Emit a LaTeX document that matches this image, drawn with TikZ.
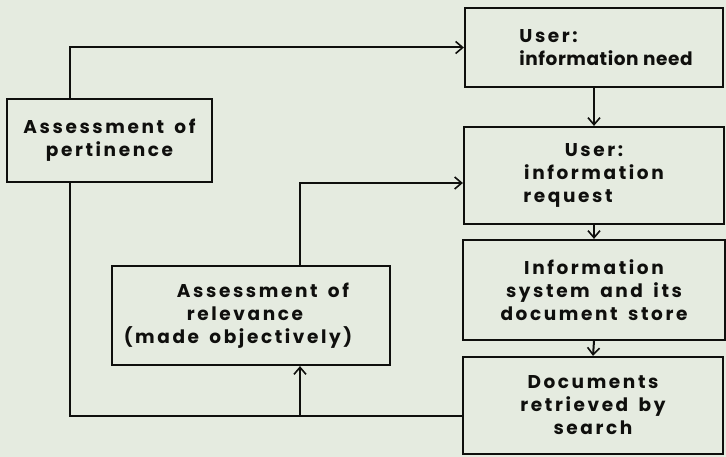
\documentclass[tikz,border=0pt]{standalone}
\usepackage{fontspec}
\setmainfont{Poppins}[LetterSpace=14,WordSpace=1.6]
\newfontfamily\tightfont{Poppins}[LetterSpace=3]
\usetikzlibrary{arrows.meta}
\definecolor{paper}{rgb}{0.90,0.92,0.88}
\definecolor{ink}{rgb}{0.06,0.06,0.05}
\tikzset{
  box/.style={draw=ink, line width=2.2pt, fill=paper, align=center, text=ink,
    font=\fontsize{18.5}{23}\selectfont\bfseries, inner sep=0pt},
  link/.style={draw=ink, line width=2pt},
  arr/.style={link, -{Straight Barb[length=7pt,width=12pt,line width=1.6pt]}}
}
\begin{document}
\begin{tikzpicture}[x=1pt,y=-1pt]
\fill[paper] (0,0) rectangle (726,457);
\useasboundingbox (0,0) rectangle (726,457);
\node[box, align=left, minimum width=258pt, minimum height=79pt] (A) at (594,47.5) {\hspace*{24pt}User:\\\hspace*{24pt}{\tightfont\bfseries information need}};
\node[box, minimum width=260pt, minimum height=97pt] (B) at (594,175.5) {User:\\information\\\hspace*{-52pt}request};
\node[box, minimum width=262pt, minimum height=100pt] (C) at (594,290) {Information\\system and its\\document store};
\node[box, minimum width=260pt, minimum height=97pt] (D) at (593,405.5) {Documents\\retrieved by\\search};
\node[box, minimum width=205pt, minimum height=83pt] (P) at (109.5,140.5) {Assessment of\\pertinence};
\node[box, minimum width=278pt, minimum height=99pt] (R) at (251,315.5) {\hspace*{24pt}Assessment of\\\hspace*{-12pt}relevance\\\hspace*{-26pt}(made objectively)};
\coordinate (pl) at (70,47.5);
\coordinate (bl) at (70,416);
\coordinate (j) at (300,416);
\coordinate (rb) at (300,183);
\draw[arr] (P.north -| pl) |- (A.west);
\draw[link] (P.south -| bl) |- (D.west |- bl);
\draw[arr] (j) -- (R.south -| j);
\draw[arr] (R.north -| rb) |- (B.west |- rb);
\draw[arr] (A.south) -- (B.north);
\draw[arr] (B.south) -- (C.north);
\draw[arr] (C.south) -- (D.north);
\end{tikzpicture}
\end{document}
